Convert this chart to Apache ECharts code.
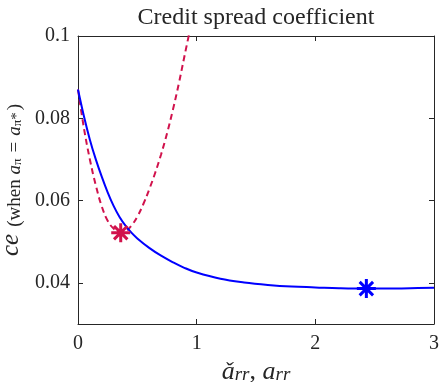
<!DOCTYPE html>
<html>
<head>
<meta charset="utf-8">
<script src="https://cdn.jsdelivr.net/npm/echarts@6/dist/echarts.min.js"></script>
<style>
  html, body { margin: 0; padding: 0; background: #fff; }
  #chart { width: 439px; height: 382px; }
</style>
</head>
<body>
<div id="chart"></div>
<script>
// Credit spread coefficient as a function of the reaction parameter
const xTicks = [0, 1, 2, 3];
const yTicks = [0.04, 0.06, 0.08, 0.1];

// solid curve (a_rr)
const blueX = [0, 0.05, 0.1, 0.15, 0.2, 0.25, 0.3, 0.35, 0.4, 0.45, 0.5, 0.6, 0.7, 0.8, 0.9, 1.0, 1.2, 1.4, 1.6, 1.8, 2.0, 2.2, 2.43, 2.6, 2.8, 3.0];
const blueY = [0.0870, 0.0805, 0.0748, 0.0700, 0.0658, 0.0620, 0.0587, 0.0560, 0.0539, 0.0522, 0.0508, 0.0485, 0.0466, 0.0450, 0.0436, 0.0425, 0.0410, 0.0401, 0.0395, 0.0391, 0.0389, 0.0387, 0.0386, 0.0386, 0.0387, 0.0388];

// dashed curve (ǎ_rr)
const redX = [0, 0.05, 0.1, 0.15, 0.2, 0.25, 0.3, 0.36, 0.4, 0.45, 0.5, 0.55, 0.6, 0.65, 0.7, 0.75, 0.8, 0.85, 0.9, 0.94];
const redY = [0.0870, 0.0776, 0.0700, 0.0637, 0.0586, 0.0551, 0.0532, 0.0522, 0.0525, 0.0539, 0.0561, 0.0591, 0.0627, 0.0667, 0.0712, 0.0763, 0.0821, 0.0885, 0.0955, 0.1010];

// optima
const redStar = [0.36, 0.0522];
const blueStar = [2.43, 0.0386];

const pairs = (xs, ys) => xs.map((x, i) => [x, ys[i]]);

const AXIS = '#262626';
const BLUE = '#0000ff';
const RED = '#d1124c';
const SERIF = '"Liberation Serif", "DejaVu Serif", serif';
const STAR = 'path://M0,-10L0,10M-10,0L10,0M-7.07,-7.07L7.07,7.07M-7.07,7.07L7.07,-7.07';

const chart = echarts.init(document.getElementById('chart'), null, { renderer: 'canvas' });

const tickStyle = { show: true, inside: true, length: 5, lineStyle: { color: AXIS, width: 1 } };
const lineStyleAxis = { show: true, onZero: false, lineStyle: { color: AXIS, width: 1 } };

chart.setOption({
  animation: false,
  backgroundColor: '#fff',
  title: {
    text: 'Credit spread coefficient',
    left: 251, top: 1, textAlign: 'center',
    textStyle: { fontFamily: SERIF, fontWeight: 'normal', fontSize: 24, color: AXIS }
  },
  grid: { left: 78, right: 5, top: 36, bottom: 58, show: false, containLabel: false, outerBoundsMode: 'none' },
  xAxis: [{
    type: 'value', min: 0, max: 3, interval: 1,
    axisLine: lineStyleAxis,
    axisTick: Object.assign({ customValues: xTicks }, tickStyle),
    axisLabel: { customValues: xTicks, margin: 10, fontFamily: SERIF, fontSize: 20, color: AXIS },
    splitLine: { show: false },
    name: '{it|ǎ}{sub|rr}{p|, }{it|a}{sub|rr}',
    nameLocation: 'middle', nameGap: 30,
    nameTextStyle: {
      rich: {
        it: { fontFamily: SERIF, fontStyle: 'italic', fontSize: 26, color: AXIS, lineHeight: 30, verticalAlign: 'bottom' },
        p: { fontFamily: SERIF, fontSize: 26, color: AXIS, lineHeight: 30, verticalAlign: 'bottom' },
        sub: { fontFamily: SERIF, fontStyle: 'italic', fontSize: 19, color: AXIS, lineHeight: 17, verticalAlign: 'bottom' }
      }
    }
  }, {
    type: 'value', min: 0, max: 3, interval: 1, position: 'top',
    axisLine: lineStyleAxis,
    axisTick: Object.assign({ customValues: xTicks }, tickStyle),
    axisLabel: { show: false },
    splitLine: { show: false }
  }],
  yAxis: [{
    type: 'value', min: 0.03, max: 0.1,
    axisLine: lineStyleAxis,
    axisTick: Object.assign({ customValues: yTicks }, tickStyle),
    axisLabel: { customValues: yTicks, margin: 8, fontFamily: SERIF, fontSize: 20, color: AXIS },
    splitLine: { show: false },
    name: '{ce|ce}{p|(when }{it|a}{sub|π}{eq|=}{it|a}{sub|π}{sup|*}{p|)}',
    nameLocation: 'middle', nameRotate: 90, nameGap: 39,
    nameTextStyle: {
      rich: {
        ce: { fontFamily: SERIF, fontStyle: 'italic', fontSize: 25, color: AXIS, lineHeight: 30, verticalAlign: 'bottom', padding: [0, 7, 0, 0] },
        p: { fontFamily: SERIF, fontSize: 19, color: AXIS, lineHeight: 29, verticalAlign: 'bottom' },
        eq: { fontFamily: SERIF, fontSize: 19, color: AXIS, lineHeight: 29, verticalAlign: 'bottom', padding: [0, 6, 0, 6] },
        it: { fontFamily: SERIF, fontStyle: 'italic', fontSize: 19, color: AXIS, lineHeight: 29, verticalAlign: 'bottom' },
        sub: { fontFamily: SERIF, fontSize: 13, color: AXIS, lineHeight: 18, verticalAlign: 'bottom' },
        sup: { fontFamily: SERIF, fontSize: 15, color: AXIS, lineHeight: 36, verticalAlign: 'bottom', padding: [0, 2, 0, 0] }
      }
    }
  }, {
    type: 'value', min: 0.03, max: 0.1, position: 'right',
    axisLine: lineStyleAxis,
    axisTick: Object.assign({ customValues: yTicks }, tickStyle),
    axisLabel: { show: false },
    splitLine: { show: false }
  }],
  series: [
    {
      type: 'line', xAxisIndex: 0, yAxisIndex: 0,
      data: pairs(redX, redY), smooth: 0.4, showSymbol: false, clip: true,
      lineStyle: { color: RED, width: 2, type: [6, 4] }, z: 3
    },
    {
      type: 'line', xAxisIndex: 0, yAxisIndex: 0,
      data: pairs(blueX, blueY), smooth: 0.4, showSymbol: false, clip: true,
      lineStyle: { color: BLUE, width: 2 }, z: 4
    },
    {
      type: 'scatter', xAxisIndex: 0, yAxisIndex: 0,
      data: [redStar], symbol: STAR, symbolSize: 19,
      itemStyle: { color: 'rgba(0,0,0,0)', borderColor: RED, borderWidth: 3, opacity: 1 }, z: 5
    },
    {
      type: 'scatter', xAxisIndex: 0, yAxisIndex: 0,
      data: [blueStar], symbol: STAR, symbolSize: 19,
      itemStyle: { color: 'rgba(0,0,0,0)', borderColor: BLUE, borderWidth: 3, opacity: 1 }, z: 5
    }
  ]
});
</script>
</body>
</html>
